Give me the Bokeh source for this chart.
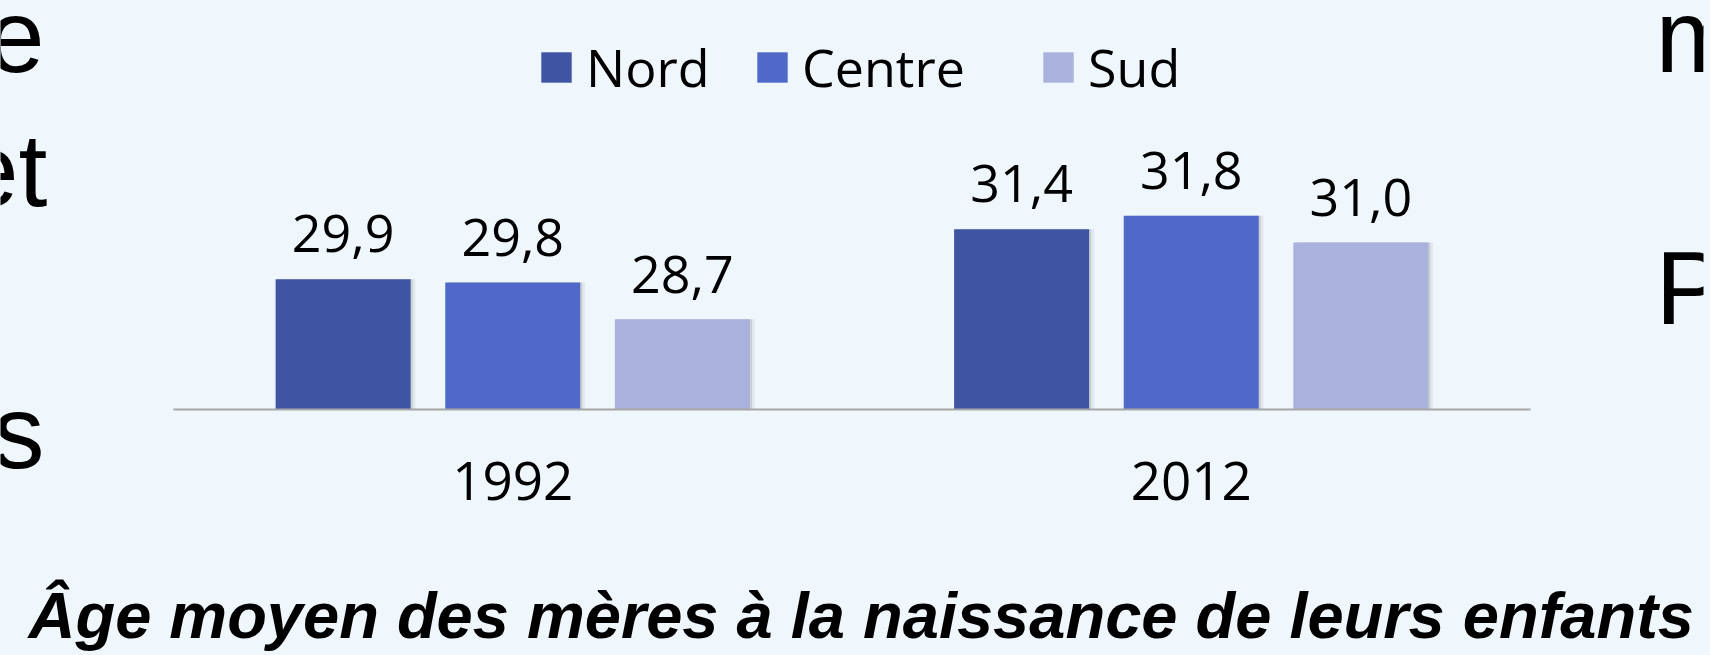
from bokeh.plotting import figure
from bokeh.models import Range1d, FactorRange, ColumnDataSource, Legend, LegendItem, Label
from bokeh.transform import dodge
from bokeh.core.properties import value
from bokeh.embed import file_html
from bokeh.resources import INLINE

# ---- data ----
years = ["1992", "2012"]
regions = ["Nord", "Centre", "Sud"]
nord = [29.9, 31.4]
centre = [29.8, 31.8]
sud = [28.7, 31.0]
title_text = "Âge moyen des mères à la naissance de leurs enfants"

# ---- style ----
colors = ["#4054a4", "#5068c8", "#aab1dc"]
offsets = [-0.25, 0.0, 0.25]
BG = "#eff6fc"
Y0 = 26
PX_PER_UNIT = 33.4
W, H = 1710, 655
BASE = 409                      # baseline position in px from the top
Y_START = Y0 - (H - BASE) / PX_PER_UNIT
Y_END = Y0 + BASE / PX_PER_UNIT
BL = 0.41                        # alphabetic baseline shift (em) seen in svg output

p = figure(x_range=FactorRange(*years, range_padding=0.255, range_padding_units="absolute"),
           y_range=Range1d(Y_START, Y_END),
           width=W, height=H, output_backend="svg", toolbar_location=None,
           min_border_left=0, min_border_right=7, min_border_top=0, min_border_bottom=0,
           background_fill_color=BG, border_fill_color=BG, outline_line_color=None)
p.grid.visible = False
p.axis.visible = False

series = [nord, centre, sud]
bars = []
LAB = 52
for name, vals, col, off in zip(regions, series, colors, offsets):
    src = ColumnDataSource(dict(year=years, val=vals,
                                lab=[f"{v:.1f}".replace(".", ",") for v in vals]))
    for s_off, a in ((0.003, 0.10), (0.007, 0.06)):
        p.vbar(x=dodge("year", off + s_off, range=p.x_range), top="val", bottom=Y0,
               width=0.199, source=src, fill_color="#000000", fill_alpha=a, line_color=None)
    r = p.vbar(x=dodge("year", off, range=p.x_range), top="val", bottom=Y0,
               width=0.199, source=src, fill_color=col, line_color=None)
    p.text(x=dodge("year", off, range=p.x_range), y="val", text="lab", source=src,
           text_align="center", text_baseline="alphabetic", y_offset=-(24 + BL * LAB),
           text_font=value("Open Sans"), text_font_size=f"{LAB}px", text_color="#000000")
    bars.append(r)

# category axis: baseline and category labels
axsrc = ColumnDataSource(dict(first=[years[0]], last=[years[-1]], y=[Y0]))
p.segment(x0=dodge("first", -0.5, range=p.x_range), x1=dodge("last", 0.5, range=p.x_range),
          y0="y", y1="y", source=axsrc, line_color="#a6a6a6", line_width=2)
CAT = 53
catsrc = ColumnDataSource(dict(year=years, y=[Y0] * len(years)))
p.text(x="year", y="y", text="year", source=catsrc, text_align="center",
       text_baseline="alphabetic", y_offset=93 - BL * CAT,
       text_font=value("Open Sans"), text_font_size=f"{CAT}px", text_color="#000000")

leg_x = [537, 753, 1039]
for name, r, lx in zip(regions, bars, leg_x):
    leg = Legend(items=[LegendItem(label=name, renderers=[r])], location=(lx, 553),
                 orientation="horizontal", padding=0, margin=0, spacing=0,
                 border_line_color=None, background_fill_alpha=0,
                 glyph_width=38, glyph_height=38, label_standoff=11,
                 label_text_font="Open Sans", label_text_font_size="52px",
                 label_text_color="#000000")
    p.add_layout(leg)

# slide title below the chart
TS = 65
p.add_layout(Label(x=28, y=H - (642 - BL * TS), x_units="screen", y_units="screen",
                   text=title_text, text_font="Liberation Sans",
                   text_font_style="bold italic", text_font_size=f"{TS}px",
                   text_color="#000000", text_baseline="alphabetic", text_align="left"))

# fragments of slide text cut by the picture edges
FS = 104
frags = [("e", 44, 78, "right"), ("et", 47, 212, "right"), ("s", 44, 474, "right"),
         ("m", 1655, 78, "left"), ("P", 1655, 330, "left")]
for t, fx, fy, al in frags:
    p.add_layout(Label(x=fx, y=H - (fy - BL * FS), x_units="screen", y_units="screen",
                       text=t, text_font="Liberation Sans", text_font_size=f"{FS}px",
                       text_color="#000000", text_baseline="alphabetic", text_align=al))

html = file_html(p, INLINE)
html = html.replace("</head>", "<style>html,body{overflow:hidden;background-color:%s;}</style></head>" % BG, 1)
open("out.html", "w").write(html)
